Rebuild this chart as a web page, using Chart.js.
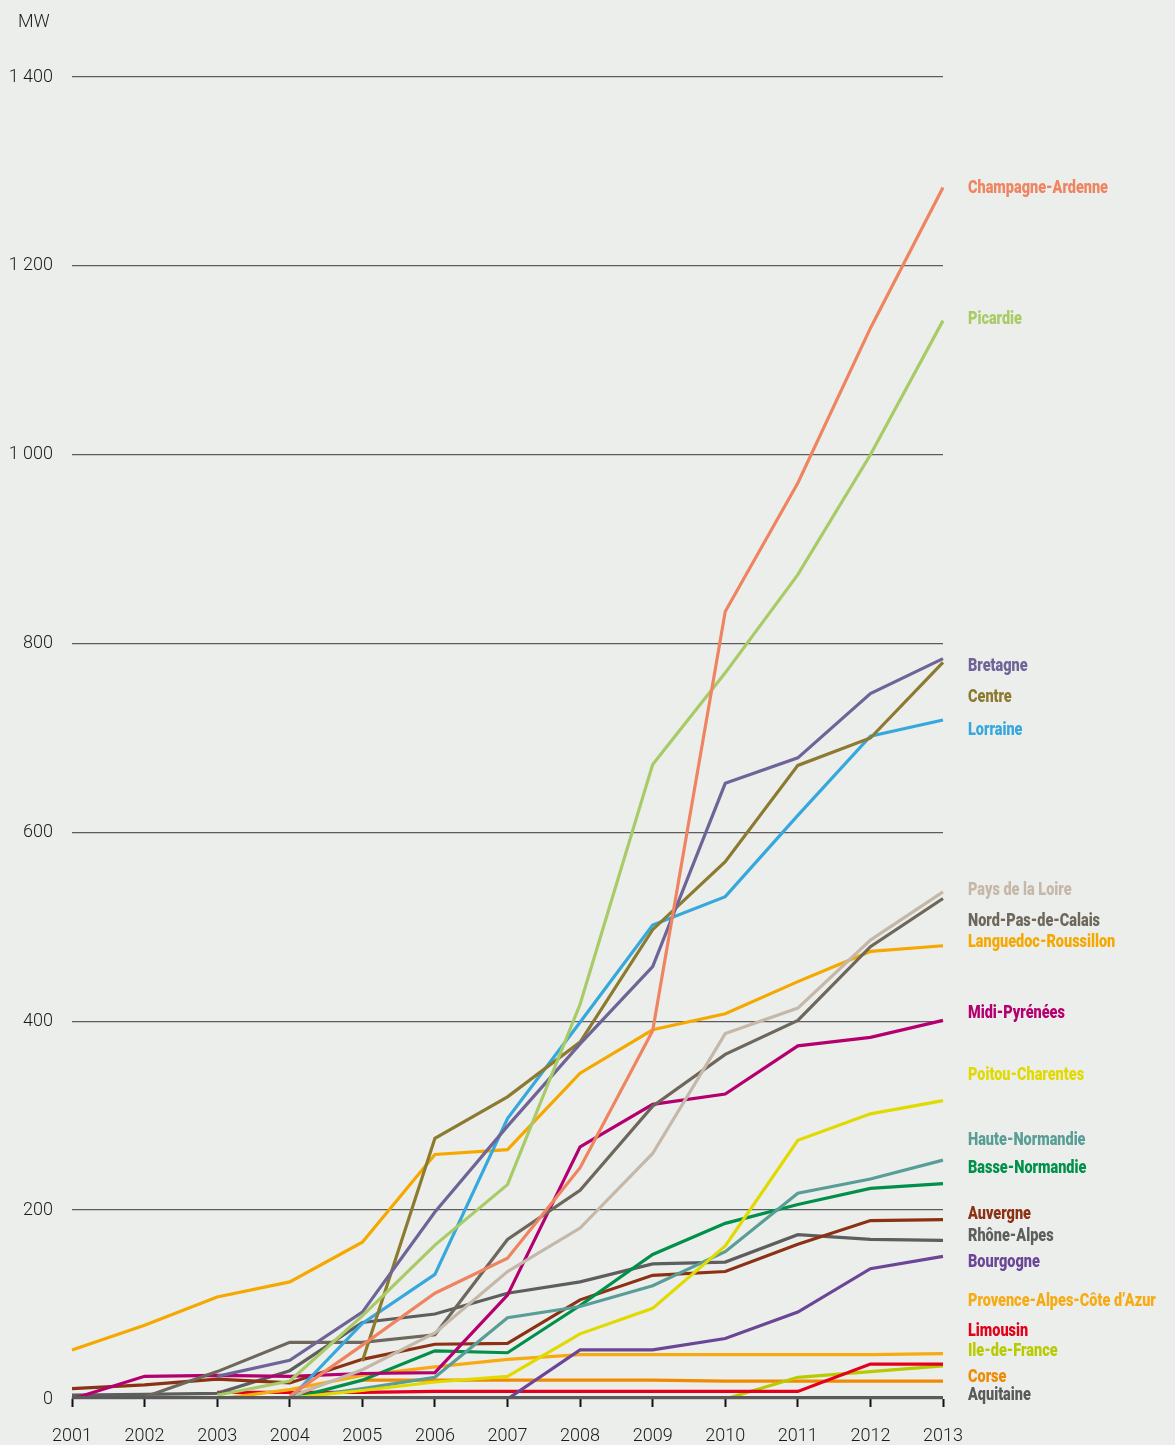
<!DOCTYPE html>
<html>
<head>
<meta charset="utf-8">
<script src="https://cdn.jsdelivr.net/npm/chart.js@4.4.1/dist/chart.umd.min.js"></script>
<style>
html,body{margin:0;padding:0;background:#ECEEEC;}
#wrap{width:1175px;height:1445px;position:relative;}
</style>
</head>
<body>
<div id="wrap"><canvas id="c" width="1175" height="1445"></canvas></div>
<script>
// ---- Data ----
const years = ['2001','2002','2003','2004','2005','2006','2007','2008','2009','2010','2011','2012','2013'];
const yTickValues = [0, 200, 400, 600, 800, 1000, 1200, 1400];
const unitLabel = 'MW';

const regions = ['Champagne-Ardenne','Picardie','Bretagne','Centre','Lorraine','Pays de la Loire',
  'Nord-Pas-de-Calais','Languedoc-Roussillon','Midi-Pyrénées','Poitou-Charentes','Haute-Normandie',
  'Basse-Normandie','Auvergne','Rhône-Alpes','Bourgogne','Provence-Alpes-Côte d\u2019Azur','Limousin',
  'Ile-de-France','Corse','Aquitaine'];

const champagneArdenne  = [null,null,null,3,57,112,149,245,390,834,970,1134,1283];
const picardie          = [null,null,4,19,88,163,227,418,672,769,873,1000,1142];
const bretagne          = [null,null,24,41,92,198,289,376,458,652,679,747,784];
const centre            = [null,null,null,null,40,276,320,378,497,569,671,700,780];
const lorraine          = [null,null,null,0,80,132,297,399,502,532,618,702,719];
const paysDeLaLoire     = [null,null,null,2,31,70,135,181,260,387,414,486,537];
const nordPasDeCalais   = [null,2,29,60,60,68,169,221,310,365,401,479,530];
const languedocRoussillon = [52,78,108,124,166,259,264,345,391,408,442,474,480];
const midiPyrenees      = [0,24,25,24,27,28,110,267,312,323,374,383,401];
const poitouCharentes   = [null,null,null,1,9,18,24,69,96,162,274,302,316];
const hauteNormandie    = [null,null,null,0,11,23,86,98,120,156,218,233,253];
const basseNormandie    = [null,null,null,0,20,51,49,99,153,186,206,223,228];
const auvergne          = [11,15,21,17,42,58,59,105,131,135,164,189,190];
const rhoneAlpes        = [4,5,6,30,81,90,112,124,143,145,174,169,168];
const bourgogne         = [null,null,null,null,null,null,0,52,52,64,92,138,151];
const paca              = [null,null,0,10,25,34,42,47,47,47,47,47,48];
const limousin          = [null,null,7,7,7,8,8,8,8,8,8,37,37];
const ileDeFrance       = [null,null,null,null,null,null,null,null,null,0,23,29,35];
const corse             = [null,null,null,null,20,20,20,20,20,19,19,19,19];
const aquitaine         = [0,0,0,0,0,0,0,0,0,0,0,0,0];

const seriesValues = [champagneArdenne,picardie,bretagne,centre,lorraine,paysDeLaLoire,nordPasDeCalais,
  languedocRoussillon,midiPyrenees,poitouCharentes,hauteNormandie,basseNormandie,auvergne,rhoneAlpes,
  bourgogne,paca,limousin,ileDeFrance,corse,aquitaine];

// ---- Styles ----
const colors = ['#EF8461','#A8CB66','#6F6497','#8C7A2F','#37A8DC','#C6B8A8','#6D675C','#F5A800',
  '#B4006F','#E0DA00','#589E97','#00904A','#8C3214','#5E5E5E','#6B4696','#F7AB12','#E2001A',
  '#B8CB00','#F08A00','#5A5A5A'];
// label anchor (in MW units)
const labelAt = [1282,1143,776,743,708,539,506,484,408,343,274,244,196,172,145,103,72,51,23,4];

const datasets = regions.map((name, i) => ({
  label: name,
  data: seriesValues[i],
  borderColor: colors[i],
  backgroundColor: colors[i],
  borderWidth: name === 'Aquitaine' ? 6 : 3.2,
  pointRadius: 0,
  tension: 0,
  fill: false,
  order: name === 'Aquitaine' ? -1 : i,
  borderJoinStyle: 'miter'
}));

const TICK_FAMILY = 'Roboto, "Liberation Sans", sans-serif';
const LABEL_FONT = '900 19px Roboto, "Liberation Sans", sans-serif';
const LABEL_REF_WIDTH = 140; // width of the first label in the reference (condensed face)

const bgPlugin = {
  id: 'bg',
  beforeDraw(chart) {
    const ctx = chart.ctx;
    ctx.save();
    ctx.fillStyle = '#ECEEEC';
    ctx.fillRect(0, 0, chart.width, chart.height);
    ctx.restore();
  }
};

const labelPlugin = {
  id: 'endLabels',
  afterDatasetsDraw(chart) {
    const { ctx, chartArea, scales } = chart;
    ctx.save();
    ctx.textBaseline = 'middle';
    ctx.textAlign = 'left';
    ctx.font = LABEL_FONT;
    const k = Math.min(1, LABEL_REF_WIDTH / ctx.measureText(regions[0]).width);
    regions.forEach((n, i) => {
      ctx.save();
      ctx.translate(chartArea.right + 25, scales.y.getPixelForValue(labelAt[i]));
      ctx.scale(k, 1);
      ctx.fillStyle = colors[i];
      ctx.fillText(n, 0, 0);
      ctx.restore();
    });
    ctx.font = '300 18px ' + TICK_FAMILY;
    ctx.fillStyle = '#1a1a1a';
    ctx.fillText(unitLabel, 18, 22);
    ctx.restore();
  }
};

new Chart(document.getElementById('c'), {
  type: 'line',
  data: { labels: years, datasets },
  plugins: [bgPlugin, labelPlugin],
  options: {
    responsive: false,
    animation: false,
    devicePixelRatio: 1,
    layout: { padding: { top: 77, left: 0, right: 232, bottom: 0 } },
    plugins: { legend: { display: false }, tooltip: { enabled: false } },
    scales: {
      x: {
        type: 'category',
        offset: false,
        border: { display: false },
        grid: { drawOnChartArea: false, drawTicks: true, tickLength: 8, tickColor: '#111', tickWidth: 2 },
        ticks: { color: '#1a1a1a', font: { family: TICK_FAMILY, size: 18, weight: '300' }, padding: 19, maxRotation: 0, autoSkip: false },
        afterFit(scale) { scale.height = 46; }
      },
      y: {
        min: 0, max: 1400,
        border: { display: false },
        afterBuildTicks(scale) { scale.ticks = yTickValues.map(v => ({ value: v })); },
        grid: { color: '#5c5c5c', lineWidth: 1.3, drawTicks: false },
        ticks: {
          color: '#1a1a1a',
          font: { family: TICK_FAMILY, size: 18, weight: '300' },
          padding: 19,
          callback: v => String(v).replace(/\B(?=(\d{3})+(?!\d))/g, ' ')
        },
        afterFit(scale) { scale.width = 72; }
      }
    }
  }
});
</script>
</body>
</html>
